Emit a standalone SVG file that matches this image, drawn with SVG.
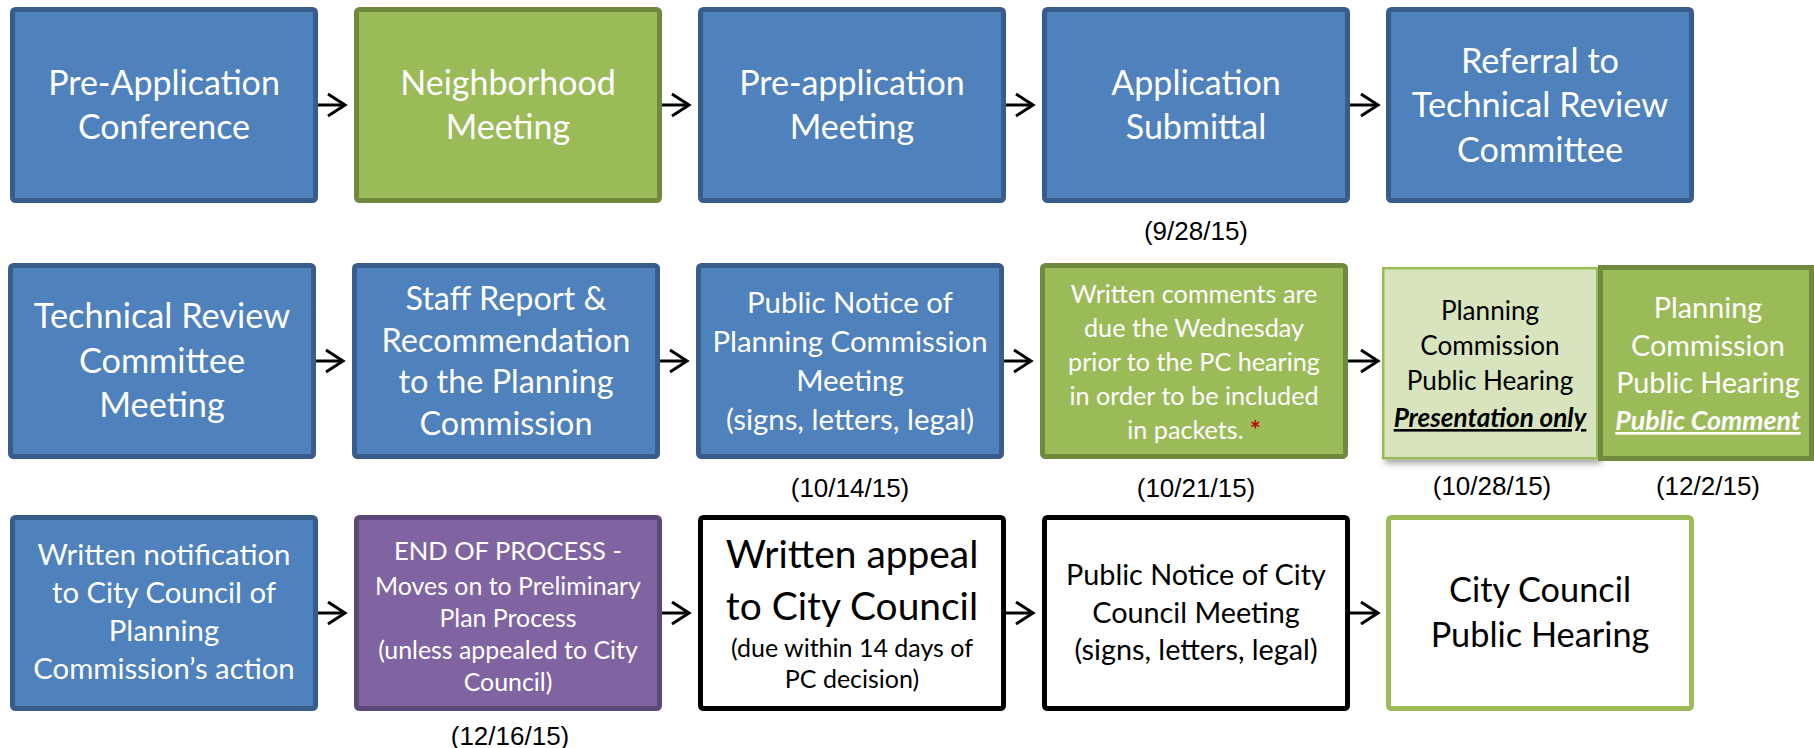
<svg xmlns="http://www.w3.org/2000/svg" width="1814" height="748" viewBox="0 0 1814 748">
<defs>
<style>
.t{font-family:Lato,"Open Sans","Liberation Sans",sans-serif;text-anchor:middle}
.w{fill:#fff}.k{fill:#000}
.d{font-family:"Liberation Sans",Arial,sans-serif;font-size:26px;text-anchor:middle;fill:#000}
.blue{fill:#4F81BD;stroke:#385D8A;stroke-width:5}
.green{fill:#9BBB59;stroke:#71893F;stroke-width:5}
.purple{fill:#8064A2;stroke:#5C4776;stroke-width:5}
.white{fill:#fff;stroke:#000;stroke-width:5}
.wgreen{fill:#fff;stroke:#9BBB59;stroke-width:5}
.light{fill:#D7E4BD;stroke:#9BBB59;stroke-width:2.5}
.c{stroke:#000;stroke-width:3;fill:none}
</style>
<marker id="ah" markerWidth="22" markerHeight="28" refX="18" refY="13" orient="auto" markerUnits="userSpaceOnUse"><path d="M1,2 L18,13 L1,24" fill="none" stroke="#000" stroke-width="3"/></marker>
<filter id="sh" x="-10%" y="-10%" width="130%" height="130%"><feDropShadow dx="3" dy="4" stdDeviation="3" flood-color="#000" flood-opacity="0.35"/></filter>
</defs>

<g id="n1"><rect class="blue" x="12.5" y="9.5" width="303" height="191" rx="3"/>
<text class="t w" font-size="34"><tspan x="164" y="95">Pre-Application</tspan><tspan x="164" y="139">Conference</tspan></text></g>
<g id="n2"><rect class="green" x="356.5" y="9.5" width="303" height="191" rx="3"/>
<text class="t w" font-size="34"><tspan x="508" y="95">Neighborhood</tspan><tspan x="508" y="139">Meeting</tspan></text></g>
<g id="n3"><rect class="blue" x="700.5" y="9.5" width="303" height="191" rx="3"/>
<text class="t w" font-size="34"><tspan x="852" y="95">Pre-application</tspan><tspan x="852" y="139">Meeting</tspan></text></g>
<g id="n4"><rect class="blue" x="1044.5" y="9.5" width="303" height="191" rx="3"/>
<text class="t w" font-size="34"><tspan x="1196" y="95">Application</tspan><tspan x="1196" y="139">Submittal</tspan></text>
<text class="d" x="1196" y="240">(9/28/15)</text></g>
<g id="n5"><rect class="blue" x="1388.5" y="9.5" width="303" height="191" rx="3"/>
<text class="t w" font-size="34.3"><tspan x="1540" y="73">Referral to</tspan><tspan x="1540" y="117">Technical Review</tspan><tspan x="1540" y="162">Committee</tspan></text></g>

<g id="n6"><rect class="blue" x="10.5" y="265.5" width="303" height="191" rx="3"/>
<text class="t w" font-size="34.3"><tspan x="162" y="328">Technical Review</tspan><tspan x="162" y="373">Committee</tspan><tspan x="162" y="417">Meeting</tspan></text></g>
<g id="n7"><rect class="blue" x="354.5" y="265.5" width="303" height="191" rx="3"/>
<text class="t w" font-size="32.4"><tspan x="506" y="310">Staff Report &amp;</tspan><tspan x="506" y="352">Recommendation</tspan><tspan x="506" y="393">to the Planning</tspan><tspan x="506" y="435">Commission</tspan></text></g>
<g id="n8"><rect class="blue" x="698.5" y="265.5" width="303" height="191" rx="3"/>
<text class="t w" font-size="29.4"><tspan x="850" y="313">Public Notice of</tspan><tspan x="850" y="352">Planning Commission</tspan><tspan x="850" y="391">Meeting</tspan><tspan x="850" y="430">(signs, letters, legal)</tspan></text>
<text class="d" x="850" y="497">(10/14/15)</text></g>
<g id="n9"><rect class="green" x="1042.5" y="265.5" width="303" height="191" rx="3"/>
<text class="t w" font-size="25.2"><tspan x="1194" y="303">Written comments are</tspan><tspan x="1194" y="337">due the Wednesday</tspan><tspan x="1194" y="371">prior to the PC hearing</tspan><tspan x="1194" y="405">in order to be included</tspan><tspan x="1194" y="439">in packets. <tspan fill="#C00000" font-weight="bold">*</tspan></tspan></text>
<text class="d" x="1196" y="497">(10/21/15)</text></g>
<g id="n10"><rect class="light" x="1383.25" y="268.25" width="214" height="190" filter="url(#sh)"/>
<text class="t k" font-size="26.1"><tspan x="1490" y="320">Planning</tspan><tspan x="1490" y="355">Commission</tspan><tspan x="1490" y="390">Public Hearing</tspan><tspan x="1490" y="427" font-weight="bold" font-style="italic" text-decoration="underline">Presentation only</tspan></text>
<text class="d" x="1492" y="495">(10/28/15)</text></g>
<g id="n11"><rect class="green" x="1600.5" y="267.5" width="211" height="191"/>
<text class="t w" font-size="28.8"><tspan x="1708" y="318">Planning</tspan><tspan x="1708" y="355.5">Commission</tspan><tspan x="1708" y="393">Public Hearing</tspan><tspan x="1708" y="430" font-size="26.8" font-weight="bold" font-style="italic" text-decoration="underline">Public Comment</tspan></text>
<text class="d" x="1708" y="495">(12/2/15)</text></g>

<g id="n12"><rect class="blue" x="12.5" y="517.5" width="303" height="191" rx="3"/>
<text class="t w" font-size="29.3"><tspan x="164" y="565">Written notification</tspan><tspan x="164" y="603">to City Council of</tspan><tspan x="164" y="641">Planning</tspan><tspan x="164" y="679">Commission’s action</tspan></text></g>
<g id="n13"><rect class="purple" x="356.5" y="517.5" width="303" height="191" rx="3"/>
<text class="t w" font-size="24.9"><tspan x="508" y="560" font-size="25.5">END OF PROCESS -</tspan><tspan x="508" y="595">Moves on to Preliminary</tspan><tspan x="508" y="627">Plan Process</tspan><tspan x="508" y="659">(unless appealed to City</tspan><tspan x="508" y="691">Council)</tspan></text>
<text class="d" x="510" y="745">(12/16/15)</text></g>
<g id="n14"><rect class="white" x="700.5" y="517.5" width="303" height="191" rx="3"/>
<text class="t k" font-size="38.9"><tspan x="852" y="568">Written appeal</tspan><tspan x="852" y="620">to City Council</tspan><tspan x="852" y="657" font-size="25">(due within 14 days of</tspan><tspan x="852" y="688" font-size="25">PC decision)</tspan></text></g>
<g id="n15"><rect class="white" x="1044.5" y="517.5" width="303" height="191" rx="3"/>
<text class="t k" font-size="28.8"><tspan x="1196" y="585">Public Notice of City</tspan><tspan x="1196" y="623">Council Meeting</tspan><tspan x="1196" y="660">(signs, letters, legal)</tspan></text></g>
<g id="n16"><rect class="wgreen" x="1388.5" y="517.5" width="303" height="191" rx="3"/>
<text class="t k" font-size="34.3"><tspan x="1540" y="602">City Council</tspan><tspan x="1540" y="647">Public Hearing</tspan></text></g>

<g id="connectors">
<line class="c" x1="318" y1="105" x2="345" y2="105" marker-end="url(#ah)"/>
<line class="c" x1="662" y1="105" x2="689" y2="105" marker-end="url(#ah)"/>
<line class="c" x1="1006" y1="105" x2="1033" y2="105" marker-end="url(#ah)"/>
<line class="c" x1="1350" y1="105" x2="1378" y2="105" marker-end="url(#ah)"/>
<line class="c" x1="316" y1="361" x2="343" y2="361" marker-end="url(#ah)"/>
<line class="c" x1="660" y1="361" x2="687" y2="361" marker-end="url(#ah)"/>
<line class="c" x1="1004" y1="361" x2="1031" y2="361" marker-end="url(#ah)"/>
<line class="c" x1="1348" y1="361" x2="1378" y2="361" marker-end="url(#ah)"/>
<line class="c" x1="318" y1="613" x2="345" y2="613" marker-end="url(#ah)"/>
<line class="c" x1="662" y1="613" x2="689" y2="613" marker-end="url(#ah)"/>
<line class="c" x1="1006" y1="613" x2="1033" y2="613" marker-end="url(#ah)"/>
<line class="c" x1="1350" y1="613" x2="1378" y2="613" marker-end="url(#ah)"/>
</g>
</svg>
